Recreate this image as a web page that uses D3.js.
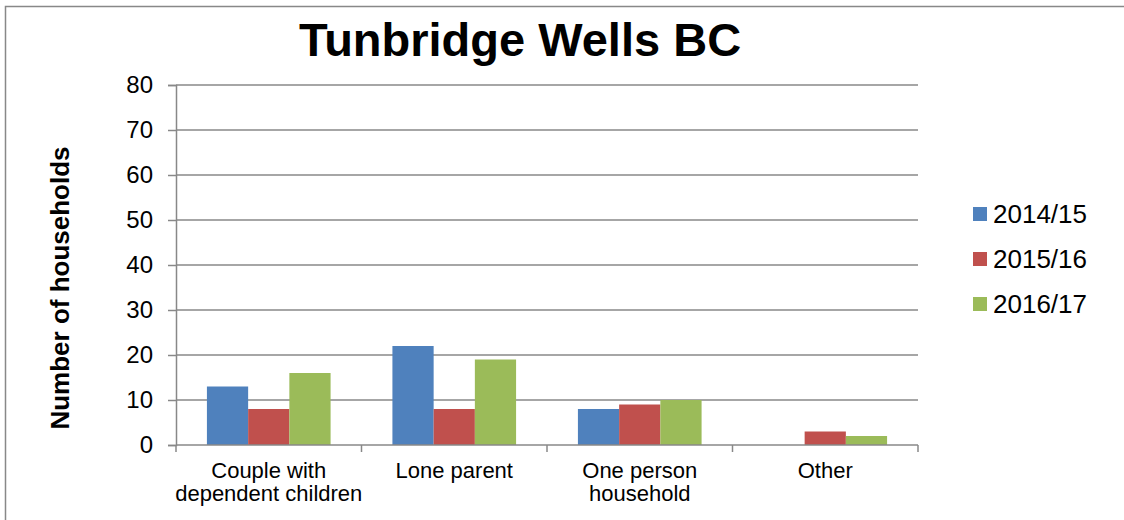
<!DOCTYPE html>
<html>
<head>
<meta charset="utf-8">
<script src="https://cdn.jsdelivr.net/npm/d3@7"></script>
<style>
  body { margin: 0; background: #fff; }
  text { font-family: "Liberation Sans", Arial, sans-serif; }
</style>
</head>
<body>
<script>
// Data
var categories = [["Couple with", "dependent children"], ["Lone parent"], ["One person", "household"], ["Other"]];
var seriesNames = ["2014/15", "2015/16", "2016/17"];
var seriesColors = ["#4F81BD", "#C0504D", "#9BBB59"];
var values2014 = [13, 22, 8, 0];
var values2015 = [8, 8, 9, 3];
var values2016 = [16, 19, 10, 2];
var yTicks = [0, 10, 20, 30, 40, 50, 60, 70, 80];

var width = 1124, height = 520;
var plot = {left: 176, right: 918, top: 85, bottom: 445};

var svg = d3.select("body").append("svg")
  .attr("width", width)
  .attr("height", height);

// Outer chart border
svg.append("rect")
  .attr("x", 5.5).attr("y", 6.5)
  .attr("width", 1130).attr("height", 530)
  .attr("fill", "#fff")
  .attr("stroke", "#888").attr("stroke-width", 1.5);

var x0 = d3.scaleBand()
  .domain(d3.range(categories.length))
  .range([plot.left, plot.right]);

// Excel style gap width 150%
var groupWidth = x0.bandwidth() * 3 / 4.5;
var x1 = d3.scaleBand()
  .domain(d3.range(seriesNames.length))
  .range([0, groupWidth]);

var y = d3.scaleLinear().domain([0, 80]).range([plot.bottom, plot.top]);

// Gridlines
svg.append("g")
  .selectAll("line")
  .data(yTicks.slice(1))
  .enter().append("line")
  .attr("x1", plot.left).attr("x2", plot.right)
  .attr("y1", function (d) { return y(d); })
  .attr("y2", function (d) { return y(d); })
  .attr("stroke", "#888").attr("stroke-width", 1.5);

// Bars
var allSeries = [values2014, values2015, values2016];
var barGroup = svg.append("g");
categories.forEach(function (c, i) {
  var gx = x0(i) + (x0.bandwidth() - groupWidth) / 2;
  allSeries.forEach(function (vals, s) {
    barGroup.append("rect")
      .attr("x", gx + x1(s))
      .attr("width", x1.bandwidth())
      .attr("y", y(vals[i]))
      .attr("height", plot.bottom - y(vals[i]))
      .attr("fill", seriesColors[s]);
  });
});

// Y axis
var yAxis = svg.append("g")
  .attr("transform", "translate(" + plot.left + ",0)")
  .call(d3.axisLeft(y).tickValues(yTicks).tickSize(8).tickPadding(15));
yAxis.select(".domain").attr("stroke", "#888").attr("stroke-width", 1.5);
yAxis.selectAll(".tick line").attr("stroke", "#888").attr("stroke-width", 1.5);
yAxis.selectAll(".tick text")
  .attr("font-size", "24px")
  .attr("fill", "#000")
  .attr("font-family", "Liberation Sans, Arial, sans-serif");

// X axis baseline and category ticks
svg.append("line")
  .attr("x1", plot.left).attr("x2", plot.right)
  .attr("y1", plot.bottom).attr("y2", plot.bottom)
  .attr("stroke", "#888").attr("stroke-width", 1.5);
svg.append("g")
  .selectAll("line")
  .data(d3.range(categories.length + 1))
  .enter().append("line")
  .attr("x1", function (d) { return plot.left + d * x0.bandwidth(); })
  .attr("x2", function (d) { return plot.left + d * x0.bandwidth(); })
  .attr("y1", plot.bottom).attr("y2", plot.bottom + 7)
  .attr("stroke", "#888").attr("stroke-width", 1.5);

// Category labels
var catLabels = svg.append("g").selectAll("text")
  .data(categories)
  .enter().append("text")
  .attr("text-anchor", "middle")
  .attr("font-size", "22px")
  .attr("fill", "#000")
  .attr("x", function (d, i) { return x0(i) + x0.bandwidth() / 2; })
  .attr("y", 478);
catLabels.each(function (d, i) {
  var t = d3.select(this);
  d.forEach(function (line, k) {
    t.append("tspan")
      .attr("x", x0(i) + x0.bandwidth() / 2)
      .attr("dy", k === 0 ? 0 : 23)
      .text(line);
  });
});

// Title
svg.append("text")
  .attr("x", 520).attr("y", 56)
  .attr("text-anchor", "middle")
  .attr("font-size", "47px")
  .attr("font-weight", "bold")
  .text("Tunbridge Wells BC");

// Y axis title
svg.append("text")
  .attr("transform", "translate(69,288) rotate(-90)")
  .attr("text-anchor", "middle")
  .attr("font-size", "26px")
  .attr("font-weight", "bold")
  .text("Number of households");

// Legend
var legend = svg.append("g").selectAll("g")
  .data(seriesNames)
  .enter().append("g")
  .attr("transform", function (d, i) { return "translate(973," + (207 + i * 45) + ")"; });
legend.append("rect")
  .attr("width", 14).attr("height", 14)
  .attr("fill", function (d, i) { return seriesColors[i]; });
legend.append("text")
  .attr("x", 20).attr("y", 16)
  .attr("font-size", "26px")
  .text(function (d) { return d; });
</script>
</body>
</html>
